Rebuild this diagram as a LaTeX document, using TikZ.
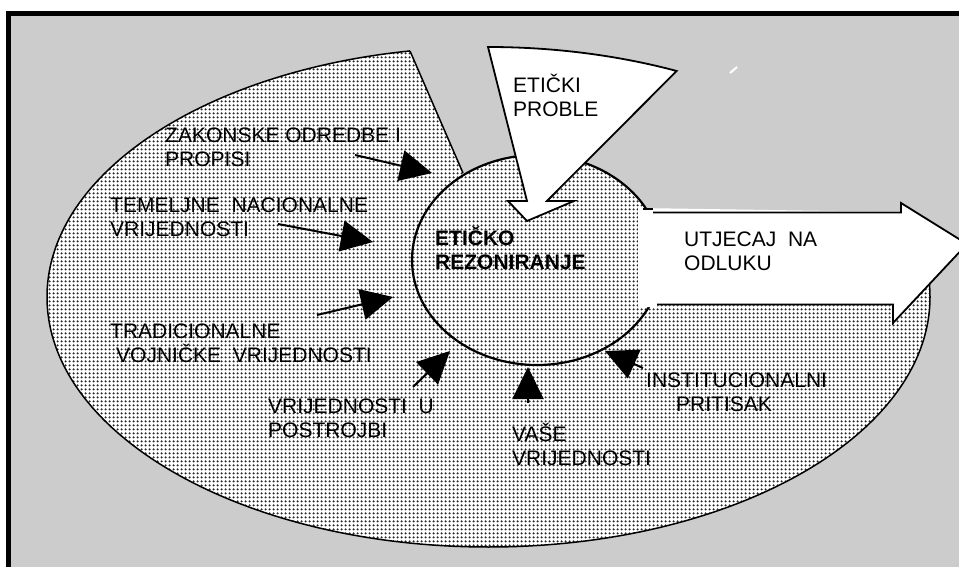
\documentclass[tikz,border=0pt]{standalone}
\usepackage{fontspec}
\setmainfont{Liberation Sans}
\usetikzlibrary{arrows.meta,patterns.meta,shapes.geometric}
\definecolor{bggrey}{HTML}{CCCCCC}
\tikzdeclarepattern{
  name=halftone,
  type=uncolored,
  bottom left={(0pt,0pt)},
  top right={(4pt,4pt)},
  tile size={(4pt,4pt)},
  code={\pgfpathcircle{\pgfqpoint{2pt}{2pt}}{1.45pt}\pgfusepath{fill}}
}
\tikzset{
  dotfill/.style={preaction={fill=white}, pattern=halftone, pattern color=black!85},
  lbl/.style={font=\fontsize{21}{24}\selectfont, inner sep=0pt, anchor=base west, align=left},
  boldlbl/.style={lbl, font=\fontsize{21}{24}\selectfont\bfseries},
  feed/.style={line width=2pt, -{Triangle[length=32pt,width=31pt]}},
  bigarrow/.style={fill=white, draw=black, line width=1.8pt, line join=miter}
}
\begin{document}
\begin{tikzpicture}[x=1pt,y=-1pt]
\useasboundingbox (0,0) rectangle (959,567);
\clip (0,0) rectangle (959,567);
\fill[white] (0,0) rectangle (959,567);
% frame
\draw[fill=bggrey, line width=5pt] (8.5,13.5) rectangle (1000,620);
% outer ellipse
\draw[dotfill, line width=1.5pt] (488.5,297) ellipse [x radius=441.5, y radius=250];
% grey cover of the upper right sector
\fill[bggrey] (410,51) -- (463,173) -- (537,260) -- (640,260) -- (640,211) -- (1000,211) -- (1000,17) -- (410,17) -- cycle;
\draw[line width=1.5pt] (410,51) -- (463,173);
% central ellipse
\node[draw, line width=2.2pt, dotfill, ellipse, minimum width=250pt, minimum height=210pt, inner sep=0pt] (core) at (537,260) {};
% ethical problem arrow
\draw[bigarrow] (488,47) arc[start angle=-90, end angle=-64.7, x radius=441.5, y radius=250]
  -- (547,201) -- (574,201) -- (527,221) -- (508,201) -- (527,201) -- cycle;
% decision arrow
\fill[white] (638,208) -- (901,212) -- (901,203) -- (967,244) -- (893,323) -- (893,305) -- (657,305) -- (657,307) -- (638,307) -- cycle;
\draw[line width=1.8pt, line join=miter] (653,212.5) -- (901,212.5) -- (901,203) -- (967,244) -- (893,323) -- (893,304.5) -- (657,304.5);
\draw[line width=1.5pt] (643,209) -- (653,209);
% small white mark
\draw[white, line width=2pt] (730,73) -- (737,67);
% feeding arrows
\coordinate (zakS) at (355,155); \coordinate (zakT) at (432,173);
\coordinate (temS) at (278,224); \coordinate (temT) at (373,242);
\coordinate (traS) at (317,315); \coordinate (traT) at (393,297);
\coordinate (posS) at (413,387); \coordinate (posT) at (450,351);
\coordinate (vasS) at (528,403); \coordinate (vasT) at (528,367);
\coordinate (insS) at (643,368); \coordinate (insT) at (605,351);
\draw[feed] (zakS) -- (zakT);
\draw[feed] (temS) -- (temT);
\draw[feed] (traS) -- (traT);
\draw[feed] (posS) -- (posT);
\draw[feed] (vasS) -- (vasT);
\draw[feed] (insS) -- (insT);
% labels (anchor = baseline of the last line)
\node[lbl] (zak) at (165,167) {ZAKONSKE ODREDBE I\\PROPISI};
\node[lbl] (tem) at (110,236) {TEMELJNE\ \ NACIONALNE\\VRIJEDNOSTI};
\node[lbl] (tra) at (110,362) {TRADICIONALNE\\\hspace*{6pt}VOJNIČKE\ \ VRIJEDNOSTI};
\node[lbl] (pos) at (268,437) {VRIJEDNOSTI\ \ U\\POSTROJBI};
\node[lbl] (vas) at (512,465) {VAŠE\\VRIJEDNOSTI};
\node[lbl] (ins) at (646,411) {INSTITUCIONALNI\\\hspace*{30pt}PRITISAK};
\node[boldlbl] (eti) at (435,269) {ETIČKO\\REZONIRANJE};
\node[lbl] (prob) at (513,117) {ETIČKI\\PROBLE};
\node[lbl] (utj) at (684,270) {UTJECAJ\ \ NA\\ODLUKU};
\end{tikzpicture}
\end{document}
